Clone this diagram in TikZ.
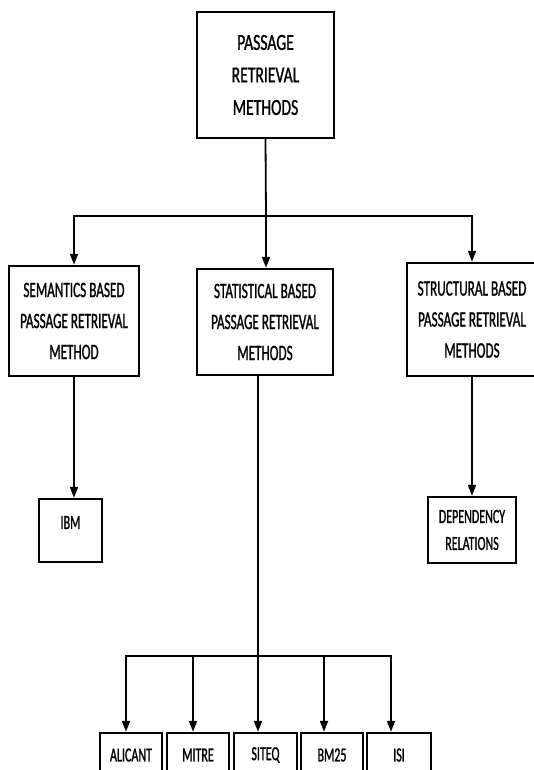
\documentclass[tikz,border=0pt]{standalone}
\usepackage{fontspec}
\setmainfont{Carlito}[FakeStretch=0.6,FakeBold=1]
\newfontfamily\topfont{Carlito}[FakeStretch=0.68,FakeBold=1]
\usetikzlibrary{arrows.meta}
\begin{document}
\begin{tikzpicture}[x=1pt,y=-1pt,
  box/.style={draw=black, line width=2.4pt, align=center, inner sep=0pt},
  conn/.style={line width=1.8pt, line join=miter},
  arr/.style={conn, -{Triangle[length=11pt,width=8pt]}},
  big/.style={font=\topfont\fontsize{23}{32.5}\selectfont},
  mid/.style={font=\fontsize{22}{31}\selectfont},
  small/.style={font=\fontsize{20}{27}\selectfont}]
\useasboundingbox (0,0) rectangle (534,770);
\fill[white] (0,0) rectangle (534,770);

% nodes
\node[box,big,minimum width=137pt,minimum height=126pt] (top) at (265.5,75) {PASSAGE\\RETRIEVAL\\METHODS};
\node[box,mid,minimum width=130pt,minimum height=110pt] (sem) at (74,321) {SEMANTICS BASED\\PASSAGE RETRIEVAL\\METHOD};
\node[box,mid,minimum width=136pt,minimum height=106pt] (stat) at (265,322) {STATISTICAL BASED\\PASSAGE RETRIEVAL\\METHODS};
\node[box,mid,minimum width=130pt,minimum height=113pt] (struct) at (472,319.5) {STRUCTURAL BASED\\PASSAGE RETRIEVAL\\METHODS};
\node[box,small,minimum width=63pt,minimum height=63pt] (ibm) at (70.5,530.5) {\raisebox{16pt}{IBM}};
\node[box,small,minimum width=88pt,minimum height=66pt] (dep) at (472,530) {DEPENDENCY\\RELATIONS};
\node[box,small,minimum width=62pt,minimum height=44pt] (ali) at (131,755) {ALICANT};
\node[box,small,minimum width=62pt,minimum height=44pt] (mit) at (198,755) {MITRE};
\node[box,small,minimum width=63pt,minimum height=44pt] (siq) at (265.5,755) {SITEQ};
\node[box,small,minimum width=62pt,minimum height=44pt] (bm) at (332,755) {BM25};
\node[box,small,minimum width=64pt,minimum height=44pt] (isi) at (399,755) {ISI};

% upper connectors
\coordinate (busM) at (266,216);
\draw[conn] (top.south) -- (busM);
\draw[arr] (busM) -| (sem.north);
\draw[arr] (busM) -| (struct.north);
\draw[arr] (busM) -- (busM |- stat.north);

% second level
\draw[arr] (sem.south) -- (sem.south |- ibm.north);
\draw[arr] (struct.south) -- (dep.north);

% statistical bus
\coordinate (sb) at (258,656);
\coordinate (b1) at (126,656);
\coordinate (b2) at (193,656);
\coordinate (b4) at (324,656);
\coordinate (b5) at (391,656);
\draw[conn] (sb |- stat.south) -- (sb);
\draw[arr] (sb) -| (b1 |- ali.north);
\draw[arr] (sb) -| (b5 |- isi.north);
\draw[arr] (b2) -- (b2 |- mit.north);
\draw[arr] (sb) -- (sb |- siq.north);
\draw[arr] (b4) -- (b4 |- bm.north);
\end{tikzpicture}
\end{document}
